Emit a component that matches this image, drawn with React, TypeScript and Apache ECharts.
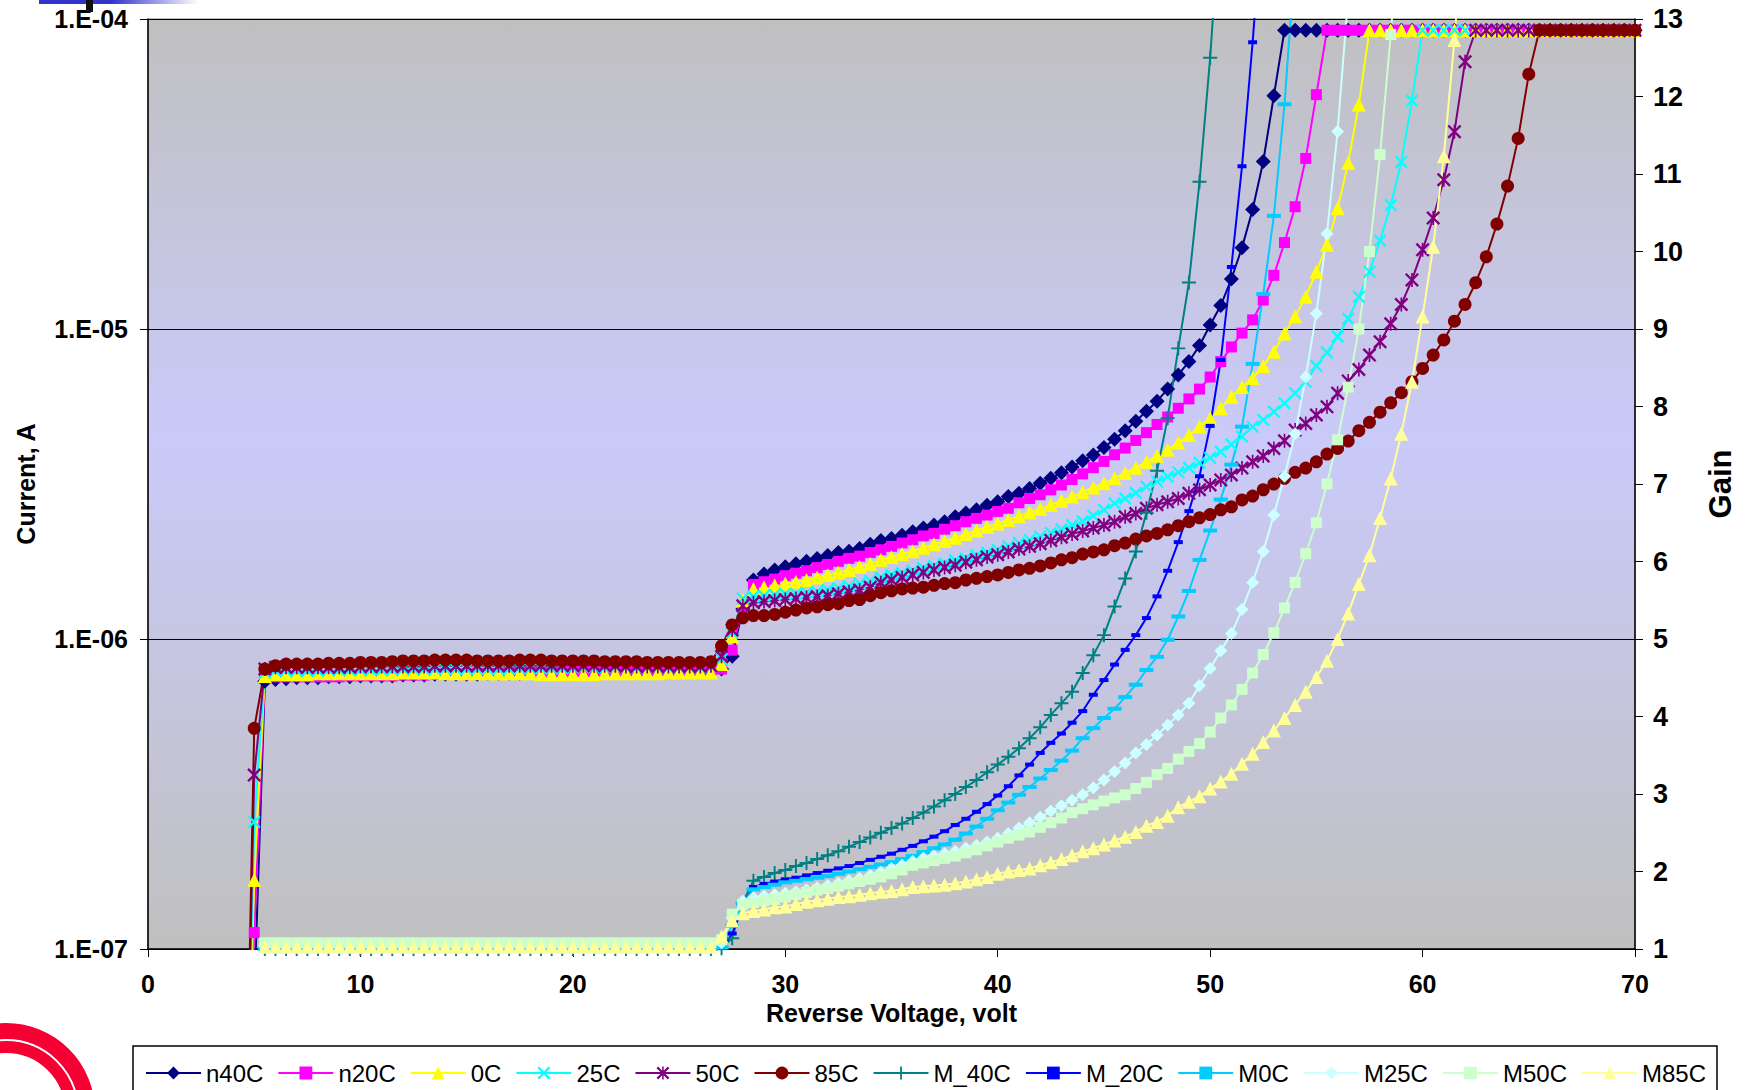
import React, { useEffect, useRef } from "react";
import * as echarts from "echarts";

const _ = null;

// Reverse voltage grid (V)
const VOLTS = [
  4.5, 5,
  5.5, 6, 6.5, 7, 7.5, 8, 8.5, 9, 9.5, 10,
  10.5, 11, 11.5, 12, 12.5, 13, 13.5, 14, 14.5, 15,
  15.5, 16, 16.5, 17, 17.5, 18, 18.5, 19, 19.5, 20,
  20.5, 21, 21.5, 22, 22.5, 23, 23.5, 24, 24.5, 25,
  25.5, 26, 26.5, 27, 27.5, 28, 28.5, 29, 29.5, 30,
  30.5, 31, 31.5, 32, 32.5, 33, 33.5, 34, 34.5, 35,
  35.5, 36, 36.5, 37, 37.5, 38, 38.5, 39, 39.5, 40,
  40.5, 41, 41.5, 42, 42.5, 43, 43.5, 44, 44.5, 45,
  45.5, 46, 46.5, 47, 47.5, 48, 48.5, 49, 49.5, 50,
  50.5, 51, 51.5, 52, 52.5, 53, 53.5, 54, 54.5, 55,
  55.5, 56, 56.5, 57, 57.5, 58, 58.5, 59, 59.5, 60,
  60.5, 61, 61.5, 62, 62.5, 63, 63.5, 64, 64.5, 65,
  65.5, 66, 66.5, 67, 67.5, 68, 68.5, 69, 69.5, 70,
];

// Currents in microamps
const I_N40C = [
  0.01, 0.07,
  0.73, 0.74, 0.745, 0.75, 0.75, 0.75, 0.755, 0.755, 0.755, 0.76,
  0.76, 0.76, 0.76, 0.765, 0.765, 0.765, 0.77, 0.77, 0.77, 0.77,
  0.77, 0.775, 0.775, 0.775, 0.775, 0.78, 0.78, 0.78, 0.78, 0.78,
  0.78, 0.78, 0.785, 0.785, 0.785, 0.785, 0.785, 0.79, 0.79, 0.79,
  0.79, 0.79, 0.79, 0.8, 0.88, 1.25, 1.55, 1.62, 1.67, 1.71,
  1.75, 1.78, 1.82, 1.86, 1.9, 1.92, 1.96, 2.02, 2.08, 2.11,
  2.16, 2.22, 2.28, 2.33, 2.39, 2.48, 2.55, 2.61, 2.7, 2.77,
  2.88, 2.95, 3.06, 3.18, 3.3, 3.44, 3.59, 3.76, 3.92, 4.15,
  4.41, 4.7, 5.04, 5.43, 5.85, 6.4, 7.11, 7.85, 8.85, 10.3,
  11.9, 14.5, 18.3, 24.3, 34.7, 56.6, 92, 92, 92, 92,
  92, 92, 92, 92, 92, 92, 92, 92, 92, 92,
  92, 92, 92, 92, 92, 92, 92, 92, 92, 92,
  92, 92, 92, 92, 92, 92, 92, 92, 92, 92,
];
const I_N20C = [
  0.01, 0.113,
  0.75, 0.755, 0.755, 0.755, 0.755, 0.755, 0.755, 0.755, 0.76, 0.76,
  0.76, 0.76, 0.76, 0.765, 0.765, 0.765, 0.77, 0.77, 0.77, 0.77,
  0.775, 0.775, 0.775, 0.78, 0.78, 0.78, 0.78, 0.78, 0.785, 0.785,
  0.785, 0.785, 0.785, 0.785, 0.79, 0.79, 0.79, 0.79, 0.79, 0.79,
  0.79, 0.79, 0.795, 0.8, 0.92, 1.27, 1.5, 1.53, 1.56, 1.6,
  1.63, 1.66, 1.7, 1.74, 1.78, 1.82, 1.85, 1.9, 1.94, 1.99,
  2.04, 2.09, 2.15, 2.19, 2.26, 2.32, 2.39, 2.45, 2.51, 2.58,
  2.64, 2.75, 2.84, 2.92, 3.03, 3.14, 3.27, 3.41, 3.57, 3.74,
  3.93, 4.13, 4.37, 4.63, 4.92, 5.2, 5.55, 5.95, 6.4, 7.0,
  7.85, 8.75, 9.7, 10.7, 12.4, 14.9, 19.0, 24.8, 35.5, 57,
  92, 92, 92, 92, 92, 92, 92, 92, 92, 92,
  92, 92, 92, 92, 92, 92, 92, 92, 92, 92,
  92, 92, 92, 92, 92, 92, 92, 92, 92, 92,
];
const I_0C = [
  0.01, 0.167,
  0.76, 0.77, 0.77, 0.77, 0.77, 0.775, 0.775, 0.775, 0.775, 0.775,
  0.775, 0.775, 0.775, 0.78, 0.78, 0.78, 0.78, 0.775, 0.775, 0.775,
  0.775, 0.775, 0.775, 0.775, 0.775, 0.775, 0.77, 0.77, 0.77, 0.77,
  0.77, 0.77, 0.775, 0.775, 0.775, 0.775, 0.775, 0.775, 0.78, 0.78,
  0.78, 0.78, 0.78, 0.83, 1.02, 1.33, 1.45, 1.47, 1.49, 1.51,
  1.53, 1.55, 1.58, 1.61, 1.64, 1.67, 1.71, 1.75, 1.8, 1.84,
  1.88, 1.92, 1.97, 2.02, 2.07, 2.12, 2.18, 2.24, 2.3, 2.36,
  2.42, 2.49, 2.56, 2.63, 2.71, 2.79, 2.88, 2.98, 3.08, 3.18,
  3.3, 3.43, 3.57, 3.73, 3.9, 4.08, 4.3, 4.55, 4.85, 5.15,
  5.55, 6.05, 6.5, 6.95, 7.6, 8.45, 9.68, 11.0, 12.7, 15.3,
  18.7, 24.5, 34.4, 53, 92, 92, 92, 92, 92, 92,
  92, 92, 92, 92, 92, 92, 92, 92, 92, 92,
  92, 92, 92, 92, 92, 92, 92, 92, 92, 92,
];
const I_25C = [
  0.01, 0.257,
  0.78, 0.79, 0.79, 0.79, 0.79, 0.79, 0.795, 0.795, 0.795, 0.795,
  0.795, 0.795, 0.795, 0.8, 0.8, 0.8, 0.8, 0.8, 0.8, 0.8,
  0.8, 0.8, 0.8, 0.8, 0.805, 0.805, 0.805, 0.805, 0.805, 0.81,
  0.81, 0.81, 0.81, 0.81, 0.81, 0.81, 0.81, 0.81, 0.81, 0.81,
  0.81, 0.81, 0.815, 0.86, 1.05, 1.35, 1.37, 1.38, 1.39, 1.4,
  1.4, 1.41, 1.42, 1.44, 1.46, 1.48, 1.51, 1.54, 1.58, 1.61,
  1.63, 1.66, 1.69, 1.72, 1.75, 1.79, 1.82, 1.86, 1.9, 1.94,
  1.99, 2.04, 2.09, 2.14, 2.2, 2.26, 2.33, 2.4, 2.5, 2.61,
  2.74, 2.84, 2.96, 3.1, 3.22, 3.34, 3.45, 3.57, 3.7, 3.84,
  4.02, 4.24, 4.5, 4.84, 5.09, 5.41, 5.76, 6.21, 6.76, 7.6,
  8.4, 9.45, 10.8, 12.7, 15.3, 19.3, 25.1, 34.6, 54.5, 92,
  92, 92, 92, 92, 92, 92, 92, 92, 92, 92,
  92, 92, 92, 92, 92, 92, 92, 92, 92, 92,
];
const I_50C = [
  0.01, 0.364,
  0.8, 0.81, 0.81, 0.81, 0.81, 0.81, 0.81, 0.81, 0.81, 0.815,
  0.815, 0.815, 0.815, 0.815, 0.815, 0.815, 0.82, 0.82, 0.82, 0.82,
  0.82, 0.82, 0.82, 0.82, 0.82, 0.82, 0.82, 0.82, 0.82, 0.82,
  0.82, 0.82, 0.82, 0.82, 0.815, 0.815, 0.815, 0.815, 0.815, 0.815,
  0.815, 0.815, 0.82, 0.88, 1.07, 1.28, 1.31, 1.32, 1.33, 1.34,
  1.35, 1.36, 1.37, 1.38, 1.4, 1.42, 1.44, 1.47, 1.52, 1.55,
  1.58, 1.61, 1.64, 1.67, 1.7, 1.73, 1.77, 1.8, 1.84, 1.87,
  1.91, 1.95, 1.99, 2.03, 2.08, 2.13, 2.18, 2.23, 2.28, 2.33,
  2.39, 2.48, 2.54, 2.64, 2.71, 2.77, 2.84, 2.95, 3.03, 3.14,
  3.26, 3.38, 3.56, 3.73, 3.89, 4.12, 4.36, 4.72, 4.96, 5.28,
  5.61, 6.21, 6.8, 7.4, 8.24, 9.1, 10.4, 12.0, 14.4, 18.0,
  22.8, 30.3, 43.3, 72.8, 92, 92, 92, 92, 92, 92,
  92, 92, 92, 92, 92, 92, 92, 92, 92, 92,
];
const I_85C = [
  0.01, 0.515,
  0.8, 0.82, 0.83, 0.83, 0.83, 0.83, 0.835, 0.835, 0.835, 0.84,
  0.84, 0.84, 0.845, 0.85, 0.85, 0.85, 0.855, 0.855, 0.855, 0.855,
  0.85, 0.85, 0.85, 0.85, 0.855, 0.855, 0.855, 0.85, 0.85, 0.85,
  0.85, 0.85, 0.845, 0.845, 0.845, 0.845, 0.84, 0.84, 0.84, 0.84,
  0.84, 0.84, 0.845, 0.95, 1.11, 1.17, 1.19, 1.19, 1.2, 1.22,
  1.24, 1.26, 1.27, 1.29, 1.3, 1.33, 1.34, 1.38, 1.41, 1.43,
  1.45, 1.46, 1.47, 1.49, 1.51, 1.52, 1.55, 1.57, 1.59, 1.61,
  1.64, 1.67, 1.69, 1.72, 1.76, 1.8, 1.83, 1.88, 1.91, 1.94,
  2.0, 2.04, 2.1, 2.15, 2.19, 2.25, 2.32, 2.39, 2.46, 2.52,
  2.61, 2.67, 2.81, 2.89, 3.03, 3.16, 3.3, 3.45, 3.56, 3.73,
  3.95, 4.12, 4.35, 4.7, 5.0, 5.39, 5.78, 6.23, 6.76, 7.46,
  8.24, 9.22, 10.6, 12.0, 14.1, 17.1, 21.8, 28.9, 41.2, 66.4,
  92, 92, 92, 92, 92, 92, 92, 92, 92, 92,
];

// Gain values
const M_N40C = [
  _, _,
  1, 1, 1, 1, 1, 1, 1, 1, 1, 1,
  1, 1, 1, 1, 1, 1, 1, 1, 1, 1,
  1, 1, 1, 1, 1, 1, 1, 1, 1, 1,
  1, 1, 1, 1, 1, 1, 1, 1, 1, 1,
  1, 1, 1, 1.01, 1.14, 1.6, 1.88, 1.93, 1.98, 2.02,
  2.07, 2.11, 2.16, 2.21, 2.26, 2.32, 2.38, 2.44, 2.5, 2.56,
  2.62, 2.69, 2.76, 2.84, 2.92, 3.0, 3.09, 3.18, 3.28, 3.38,
  3.48, 3.59, 3.72, 3.86, 4.02, 4.17, 4.32, 4.56, 4.79, 5.05,
  5.42, 5.78, 6.13, 6.63, 7.17, 7.85, 8.75, 9.6, 10.9, 12.5,
  14.5, _, _, _, _, _, _, _, _, _,
  _, _, _, _, _, _, _, _, _, _,
  _, _, _, _, _, _, _, _, _, _,
  _, _, _, _, _, _, _, _, _, _,
];
const M_N20C = [
  _, _,
  0.98, 0.98, 0.98, 0.98, 0.98, 0.98, 0.98, 0.98, 0.98, 0.98,
  0.98, 0.98, 0.98, 0.98, 0.98, 0.98, 0.98, 0.98, 0.98, 0.98,
  0.98, 0.98, 0.98, 0.98, 0.98, 0.98, 0.98, 0.98, 0.98, 0.98,
  0.98, 0.98, 0.98, 0.98, 0.98, 0.98, 0.98, 0.98, 0.98, 0.98,
  0.98, 0.98, 0.98, 0.99, 1.2, 1.55, 1.8, 1.84, 1.87, 1.9,
  1.92, 1.95, 1.98, 2.01, 2.04, 2.07, 2.11, 2.15, 2.19, 2.23,
  2.28, 2.33, 2.39, 2.45, 2.52, 2.6, 2.68, 2.77, 2.87, 2.98,
  3.1, 3.24, 3.38, 3.53, 3.66, 3.78, 3.92, 4.07, 4.28, 4.47,
  4.67, 4.86, 5.05, 5.27, 5.55, 5.88, 6.25, 6.65, 7.1, 7.75,
  8.6, 9.8, 11.1, 12.7, 14.5, _, _, _, _, _,
  _, _, _, _, _, _, _, _, _, _,
  _, _, _, _, _, _, _, _, _, _,
  _, _, _, _, _, _, _, _, _, _,
];
const M_0C = [
  _, _,
  1, 1, 1, 1, 1, 1, 1, 1, 1, 1,
  1, 1, 1, 1, 1, 1, 1, 1, 1, 1,
  1, 1, 1, 1, 1, 1, 1, 1, 1, 1,
  1, 1, 1, 1, 1, 1, 1, 1, 1, 1,
  1, 1, 1, 1.02, 1.3, 1.58, 1.77, 1.8, 1.83, 1.86,
  1.88, 1.9, 1.92, 1.94, 1.97, 2.0, 2.03, 2.06, 2.09, 2.12,
  2.16, 2.2, 2.25, 2.3, 2.35, 2.41, 2.49, 2.58, 2.68, 2.79,
  2.89, 2.99, 3.09, 3.2, 3.31, 3.43, 3.56, 3.72, 3.85, 3.98,
  4.1, 4.25, 4.41, 4.6, 4.77, 4.99, 5.29, 5.62, 6.02, 6.4,
  6.8, 7.25, 7.74, 8.55, 9.45, 10.46, 11.9, 13.8, _, _,
  _, _, _, _, _, _, _, _, _, _,
  _, _, _, _, _, _, _, _, _, _,
  _, _, _, _, _, _, _, _, _, _,
];
const M_25C = [
  _, _,
  1.05, 1.05, 1.05, 1.05, 1.05, 1.05, 1.05, 1.05, 1.05, 1.05,
  1.05, 1.05, 1.05, 1.05, 1.05, 1.05, 1.05, 1.05, 1.05, 1.05,
  1.05, 1.05, 1.05, 1.05, 1.05, 1.05, 1.05, 1.05, 1.05, 1.05,
  1.05, 1.05, 1.05, 1.05, 1.05, 1.05, 1.05, 1.05, 1.05, 1.05,
  1.05, 1.05, 1.05, 1.08, 1.4, 1.62, 1.66, 1.68, 1.7, 1.72,
  1.74, 1.76, 1.79, 1.82, 1.85, 1.88, 1.91, 1.95, 1.99, 2.04,
  2.08, 2.13, 2.17, 2.2, 2.23, 2.26, 2.3, 2.34, 2.38, 2.43,
  2.49, 2.56, 2.63, 2.7, 2.78, 2.85, 2.92, 2.99, 3.08, 3.18,
  3.29, 3.4, 3.53, 3.64, 3.76, 3.89, 4.02, 4.17, 4.4, 4.62,
  4.85, 5.07, 5.38, 5.73, 6.13, 6.6, 7.1, 7.65, 8.38, 9.2,
  10.23, 11.55, 13.3, _, _, _, _, _, _, _,
  _, _, _, _, _, _, _, _, _, _,
  _, _, _, _, _, _, _, _, _, _,
];
const M_50C = [
  _, _,
  1.08, 1.08, 1.08, 1.08, 1.08, 1.08, 1.08, 1.08, 1.08, 1.08,
  1.08, 1.08, 1.08, 1.08, 1.08, 1.08, 1.08, 1.08, 1.08, 1.08,
  1.08, 1.08, 1.08, 1.08, 1.08, 1.08, 1.08, 1.08, 1.08, 1.08,
  1.08, 1.08, 1.08, 1.08, 1.08, 1.08, 1.08, 1.08, 1.08, 1.08,
  1.08, 1.08, 1.08, 1.12, 1.45, 1.57, 1.6, 1.62, 1.64, 1.67,
  1.7, 1.73, 1.76, 1.78, 1.81, 1.84, 1.87, 1.9, 1.93, 1.97,
  2.02, 2.08, 2.11, 2.14, 2.17, 2.2, 2.24, 2.28, 2.33, 2.38,
  2.43, 2.47, 2.51, 2.57, 2.63, 2.69, 2.76, 2.81, 2.86, 2.91,
  2.95, 2.99, 3.07, 3.15, 3.25, 3.33, 3.45, 3.55, 3.65, 3.8,
  3.98, 4.15, 4.35, 4.56, 4.8, 5.08, 5.4, 5.73, 6.1, 6.5,
  7.0, 7.57, 8.25, 9.0, 10.0, 11.25, 12.8, 14.5, _, _,
  _, _, _, _, _, _, _, _, _, _,
  _, _, _, _, _, _, _, _, _, _,
];
const M_85C = [
  _, _,
  1.03, 1.03, 1.03, 1.03, 1.03, 1.03, 1.03, 1.03, 1.03, 1.03,
  1.03, 1.03, 1.03, 1.03, 1.03, 1.03, 1.03, 1.03, 1.03, 1.03,
  1.03, 1.03, 1.03, 1.03, 1.03, 1.03, 1.03, 1.03, 1.03, 1.03,
  1.03, 1.03, 1.03, 1.03, 1.03, 1.03, 1.03, 1.03, 1.03, 1.03,
  1.03, 1.03, 1.03, 1.16, 1.37, 1.46, 1.49, 1.51, 1.54, 1.55,
  1.58, 1.61, 1.63, 1.65, 1.67, 1.68, 1.7, 1.72, 1.74, 1.75,
  1.77, 1.8, 1.81, 1.82, 1.83, 1.85, 1.87, 1.9, 1.93, 1.97,
  2.0, 2.02, 2.04, 2.08, 2.12, 2.16, 2.21, 2.26, 2.3, 2.35,
  2.4, 2.45, 2.51, 2.59, 2.64, 2.72, 2.83, 2.9, 2.97, 3.07,
  3.16, 3.26, 3.39, 3.52, 3.67, 3.82, 3.98, 4.15, 4.32, 4.51,
  4.72, 5.0, 5.33, 5.71, 6.08, 6.56, 7.07, 7.65, 8.32, 9.16,
  10.06, 11.23, 12.73, 14.6, _, _, _, _, _, _,
  _, _, _, _, _, _, _, _, _, _,
];

const SERIES_NAMES = ["n40C", "n20C", "0C", "25C", "50C", "85C", "M_40C", "M_20C", "M0C", "M25C", "M50C", "M85C"];
const SERIES_COLORS = ["#000080", "#FF00FF", "#FFFF00", "#00FFFF", "#800080", "#800000", "#008080", "#0000FF", "#00CCFF", "#CCFFFF", "#CCFFCC", "#FFFF99"];

const SYM_X = "path://M0,1.2 L1.2,0 L5,3.8 L8.8,0 L10,1.2 L6.2,5 L10,8.8 L8.8,10 L5,6.2 L1.2,10 L0,8.8 L3.8,5 Z";
const SYM_STAR = "path://M0,1.2 L1.2,0 L4.4,3.2 L4.4,0 L5.6,0 L5.6,3.2 L8.8,0 L10,1.2 L6.2,5 L10,8.8 L8.8,10 L5.6,6.8 L5.6,10 L4.4,10 L4.4,6.8 L1.2,10 L0,8.8 L3.8,5 Z";
const SYM_PLUS = "path://M4.3,0 L5.7,0 L5.7,4.3 L10,4.3 L10,5.7 L5.7,5.7 L5.7,10 L4.3,10 L4.3,5.7 L0,5.7 L0,4.3 L4.3,4.3 Z";
const SYM_DASH = "path://M0,0 L10,0 L10,3 L0,3 Z";

const FONT = "'Liberation Sans', Arial, sans-serif";

export default function App() {
  const ref = useRef<HTMLDivElement>(null);
  useEffect(() => {
    if (!ref.current) return;
    const chart = echarts.init(ref.current, null, { renderer: "svg" });

    const cur = (arr: (number | null)[]) => VOLTS.map((v, i) => [v, arr[i] == null ? null : (arr[i] as number) * 1e-6]);
    const gain = (arr: (number | null)[]) => VOLTS.map((v, i) => [v, arr[i] == null ? null : arr[i]]);

    const defs: any[] = [
      { data: cur(I_N40C), y: 0, symbol: "diamond", size: 15 },
      { data: cur(I_N20C), y: 0, symbol: "rect", size: 11 },
      { data: cur(I_0C), y: 0, symbol: "triangle", size: 14 },
      { data: cur(I_25C), y: 0, symbol: SYM_X, size: 13 },
      { data: cur(I_50C), y: 0, symbol: SYM_STAR, size: 14 },
      { data: cur(I_85C), y: 0, symbol: "circle", size: 13 },
      { data: gain(M_N40C), y: 1, symbol: SYM_PLUS, size: 14 },
      { data: gain(M_N20C), y: 1, symbol: SYM_DASH, size: [9, 4] },
      { data: gain(M_0C), y: 1, symbol: SYM_DASH, size: [14, 4] },
      { data: gain(M_25C), y: 1, symbol: "diamond", size: 13 },
      { data: gain(M_50C), y: 1, symbol: "rect", size: 11 },
      { data: gain(M_85C), y: 1, symbol: "triangle", size: 14 },
    ];

    const series = defs.map((d, i) => ({
      name: SERIES_NAMES[i],
      type: "line",
      yAxisIndex: d.y,
      data: d.data,
      symbol: d.symbol,
      symbolSize: d.size,
      showSymbol: true,
      clip: true,
      connectNulls: false,
      lineStyle: { color: SERIES_COLORS[i], width: 2 },
      itemStyle: { color: SERIES_COLORS[i], borderWidth: 0 },
      emphasis: { disabled: true },
    }));

    const fmtExp = (v: number) => {
      const e = Math.round(Math.log10(v));
      return "1.E" + (e < 0 ? "-" : "+") + String(Math.abs(e)).padStart(2, "0");
    };

    chart.setOption({
      animation: false,
      backgroundColor: "#FFFFFF",
      textStyle: { fontFamily: FONT },
      grid: {
        left: 148,
        top: 19,
        width: 1487,
        height: 930,
        show: true,
        borderColor: "#808080",
        borderWidth: 1,
        backgroundColor: new echarts.graphic.LinearGradient(0, 0, 0, 1, [
          { offset: 0, color: "#C0C0C0" },
          { offset: 0.45, color: "#CACAFA" },
          { offset: 1, color: "#C0C0C0" },
        ]),
      },
      legend: {
        data: SERIES_NAMES,
        left: 140,
        top: 1056,
        itemWidth: 55,
        itemHeight: 16,
        itemGap: 14,
        selectedMode: false,
        textStyle: { fontFamily: FONT, fontSize: 24, color: "#000000" },
      },
      xAxis: {
        type: "value",
        min: 0,
        max: 70,
        interval: 10,
        name: "Reverse Voltage, volt",
        nameLocation: "middle",
        nameGap: 47,
        nameTextStyle: { fontFamily: FONT, fontSize: 25, fontWeight: "bold", color: "#000000" },
        axisLine: { show: true, onZero: false, lineStyle: { color: "#000000", width: 1.5 } },
        axisTick: { show: true, inside: false, length: 8, lineStyle: { color: "#000000" } },
        axisLabel: { fontFamily: FONT, fontSize: 25, fontWeight: "bold", color: "#000000", margin: 22 },
        splitLine: { show: false },
      },
      yAxis: [
        {
          type: "log",
          logBase: 10,
          min: 1e-7,
          max: 1e-4,
          position: "left",
          name: "Current, A",
          nameLocation: "middle",
          nameRotate: 90,
          nameGap: 110,
          nameTextStyle: { fontFamily: FONT, fontSize: 25, fontWeight: "bold", color: "#000000" },
          axisLine: { show: true, onZero: false, lineStyle: { color: "#000000", width: 1.5 } },
          axisTick: { show: true, inside: false, length: 8, lineStyle: { color: "#000000" } },
          axisLabel: { fontFamily: FONT, fontSize: 25, fontWeight: "bold", color: "#000000", margin: 20, formatter: fmtExp },
          splitLine: { show: true, lineStyle: { color: "#000000", width: 1 } },
          minorTick: { show: false },
        },
        {
          type: "value",
          min: 1,
          max: 13,
          interval: 1,
          position: "right",
          name: "Gain",
          nameLocation: "middle",
          nameRotate: 90,
          nameGap: 70,
          nameTextStyle: { fontFamily: FONT, fontSize: 31, fontWeight: "bold", color: "#000000" },
          axisLine: { show: true, onZero: false, lineStyle: { color: "#000000", width: 1.5 } },
          axisTick: { show: true, inside: false, length: 8, lineStyle: { color: "#000000" } },
          axisLabel: { fontFamily: FONT, fontSize: 27, fontWeight: "bold", color: "#000000", margin: 18 },
          splitLine: { show: false },
        },
      ],
      graphic: [
        {
          type: "rect",
          left: 39,
          top: 0,
          shape: { width: 160, height: 4 },
          style: {
            fill: new echarts.graphic.LinearGradient(0, 0, 1, 0, [
              { offset: 0, color: "#3333CC" },
              { offset: 0.45, color: "#3333CC" },
              { offset: 1, color: "#FFFFFF" },
            ]),
          },
          z: 10,
        },
        { type: "rect", left: 86, top: 0, shape: { width: 7, height: 12 }, style: { fill: "#111111" }, z: 11 },
        {
          type: "arc",
          shape: { cx: 6, cy: 1112, r: 74, startAngle: -Math.PI, endAngle: 0, clockwise: true },
          style: { stroke: "#F40032", lineWidth: 30, fill: "none" },
          z: 10,
        },
        {
          type: "arc",
          shape: { cx: 6, cy: 1112, r: 72, startAngle: -Math.PI, endAngle: 0, clockwise: true },
          style: { stroke: "#FFFFFF", lineWidth: 2, fill: "none" },
          z: 11,
        },
        {
          type: "rect",
          shape: { x: 133, y: 1046, width: 1584, height: 60 },
          style: { fill: "#FFFFFF", stroke: "#000000", lineWidth: 1.5 },
          z: 0,
        },
      ],
      series,
    });

    return () => chart.dispose();
  }, []);

  return <div ref={ref} style={{ position: "fixed", left: 0, top: 0, width: 1745, height: 1090 }} />;
}
